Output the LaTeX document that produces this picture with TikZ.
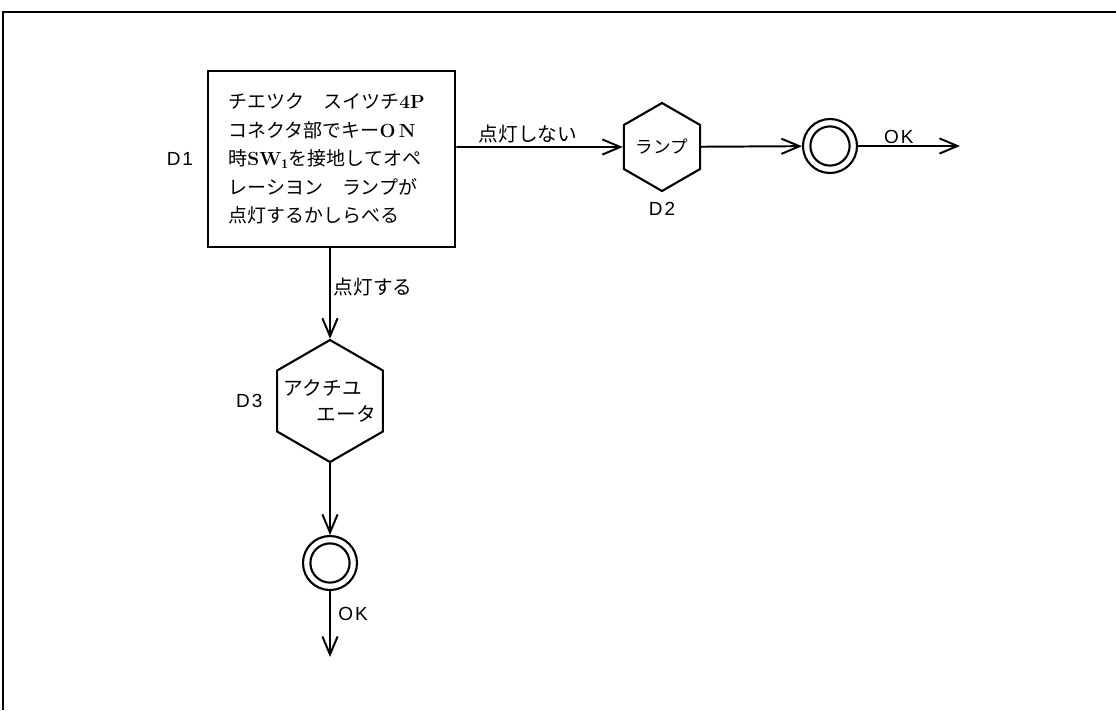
\documentclass[tikz,border=0pt]{standalone}
\usepackage{fontspec}
\setsansfont{Liberation Sans}
\newfontfamily\jp{Noto Sans CJK JP}
\newfontfamily\tagfont[LetterSpace=10]{Liberation Sans}
\usetikzlibrary{arrows.meta, positioning, shapes.geometric}

\begin{document}
\begin{tikzpicture}[
    x=0.025cm, y=-0.025cm,
    node distance=0.3cm,
    block/.style={rectangle, draw, line width=1.8pt, minimum width=6.175cm, minimum height=4.4cm, text width=5.15cm, align=left, font=\jp\fontsize{13.5}{20.3}\selectfont},
    hexa/.style={regular polygon, regular polygon sides=6, shape border rotate=30, draw, line width=1.5pt, inner sep=0pt},
    goal/.style={circle, draw, line width=1.5pt, minimum size=1.35cm, inner sep=0pt, path picture={\draw[line width=1.5pt] (path picture bounding box.center) circle (0.49cm);}},
    tag/.style={font=\tagfont\fontsize{13.5}{16}\selectfont, inner sep=1pt},
    cond/.style={font=\jp\fontsize{14}{18.5}\selectfont, inner sep=2pt},
    arrow/.style={line width=1.4pt, -{Straight Barb[length=0.45cm, width=0.38cm]}}
]
    \useasboundingbox (0,0) rectangle (1116,710);
    % frame
    \draw[line width=1.4pt] (3,710) -- (3,12) -- (1116,12);

    \node[block] (check) at (331.5,159) {チエツク　スイツチ{\rmfamily\bfseries 4P}\\
        コネクタ部でキー{\rmfamily\bfseries O\,N}\\
        時{\rmfamily\bfseries SW}$_{\mathbf{1}}$を接地してオペ\\
        レーシヨン　ランプが\\
        点灯するかしらべる};
    \node[tag, left=of check] (d1) {D1};

    \node[hexa, minimum size=2.2cm, font=\jp\fontsize{12.5}{14}\selectfont] (lamp) at (662,147) {ランプ};
    \node[tag, below=0.2cm of lamp] (d2) {D2};
    \node[goal] (ok1) at (830,146) {};
    \coordinate (end1) at (960,146);

    \node[hexa, minimum size=3.05cm] (act) at (330,401) {};
    \node[cond, text width=2.3cm, align=left] (acttxt) at (act) {アクチユ\\ \hspace*{\fill}エータ};
    \node[tag, left=of act] (d3) {D3};
    \node[goal] (ok2) at (330,563) {};
    \coordinate (end2) at (330,657);

    \draw[arrow] (check.east |- lamp) -- node[cond, above, pos=0.43] (off) {点灯しない} (lamp);
    \draw[arrow] (lamp) -- (ok1);
    \draw[arrow] (ok1) -- node[tag, above, pos=0.4] (ok1lbl) {OK} (end1);
    \draw[arrow] (check.south -| act) -- node[cond, right, pos=0.43] (on) {点灯する} (act);
    \draw[arrow] (act) -- (ok2);
    \draw[arrow] (ok2) -- node[tag, right=0.15cm, pos=0.35] (ok2lbl) {OK} (end2);

\end{tikzpicture}
\end{document}
